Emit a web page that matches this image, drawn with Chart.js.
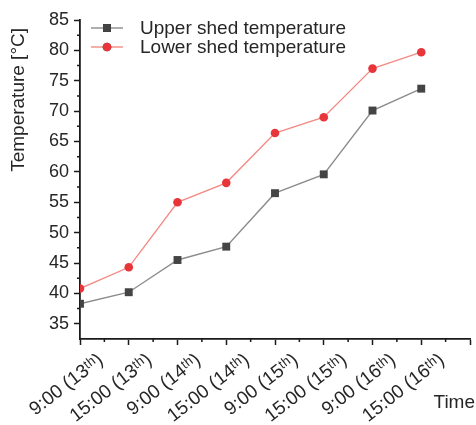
<!DOCTYPE html>
<html>
<head>
<meta charset="utf-8">
<script src="https://cdn.jsdelivr.net/npm/chart.js@4.4.1/dist/chart.umd.min.js"></script>
<style>
  html, body { margin: 0; padding: 0; background: #fff; }
</style>
</head>
<body>
<canvas id="tempChart" width="476" height="425"></canvas>
<script>
// data
var timeLabels = ["9:00 (13ᵗʰ)", "15:00 (13ᵗʰ)", "9:00 (14ᵗʰ)", "15:00 (14ᵗʰ)",
                  "9:00 (15ᵗʰ)", "15:00 (15ᵗʰ)", "9:00 (16ᵗʰ)", "15:00 (16ᵗʰ)"];
var upperTemp = [38.3, 40.2, 45.5, 47.7, 56.5, 59.6, 70.1, 73.7];
var lowerTemp = [40.8, 44.3, 55.0, 58.2, 66.4, 69.0, 77.0, 79.7];
var yTicks = [35, 40, 45, 50, 55, 60, 65, 70, 75, 80, 85];
var seriesNames = ["Upper shed temperature", "Lower shed temperature"];

var FONT = "'Liberation Sans', Arial, sans-serif";
var TEXT_COLOR = "#262626";
var AXIS_COLOR = "#1a1a1a";

function toPoints(values) {
    var pts = [];
    for (var i = 0; i < values.length; i++) {
        pts.push({ x: i, y: values[i] });
    }
    return pts;
}

// short ticks half way between the labelled ones
var minorTicks = {
    id: "minorTicks",
    afterDraw: function (chart) {
        var ctx = chart.ctx;
        var xs = chart.scales.x, ys = chart.scales.y;
        ctx.save();
        ctx.strokeStyle = AXIS_COLOR;
        ctx.lineWidth = 1.5;
        ctx.beginPath();
        for (var i = 0; i < yTicks.length - 1; i++) {
            var py = ys.getPixelForValue((yTicks[i] + yTicks[i + 1]) / 2);
            ctx.moveTo(ys.right, py);
            ctx.lineTo(ys.right - 3, py);
        }
        for (var j = 0; j < timeLabels.length; j++) {
            var px = xs.getPixelForValue(j + 0.5);
            ctx.moveTo(px, xs.top);
            ctx.lineTo(px, xs.top + 3);
        }
        ctx.stroke();
        ctx.restore();
    }
};

// legend drawn inside the plot, line + marker + name
var innerLegend = {
    id: "innerLegend",
    afterDraw: function (chart) {
        var ctx = chart.ctx;
        var x0 = 91, x1 = 123, tx = 140;
        var rows = [28, 47];
        ctx.save();
        ctx.font = "19px " + FONT;
        ctx.textBaseline = "middle";
        chart.data.datasets.forEach(function (ds, k) {
            var y = rows[k];
            ctx.strokeStyle = ds.borderColor;
            ctx.lineWidth = ds.borderWidth;
            ctx.beginPath();
            ctx.moveTo(x0, y);
            ctx.lineTo(x1, y);
            ctx.stroke();
            Chart.helpers.drawPoint(ctx, {
                pointStyle: ds.pointStyle,
                radius: ds.pointRadius,
                rotation: 0,
                borderWidth: 0
            }, (x0 + x1) / 2, y);
            ctx.fillStyle = ds.pointBackgroundColor;
            ctx.fill();
            ctx.fillStyle = TEXT_COLOR;
            ctx.fillText(seriesNames[k], tx, y + 1);
        });
        ctx.restore();
    }
};

// axis titles: "Temperature" hangs from near the top, "Time" sits level with the tick labels
var axisTitles = {
    id: "axisTitles",
    afterDraw: function (chart) {
        var ctx = chart.ctx;
        ctx.save();
        ctx.font = "19px " + FONT;
        ctx.fillStyle = TEXT_COLOR;
        ctx.textBaseline = "middle";
        ctx.textAlign = "right";
        ctx.fillText("Time", 475, 403);
        ctx.translate(19, 28);
        ctx.rotate(-Math.PI / 2);
        ctx.fillText("Temperature [°C]", 0, 0);
        ctx.restore();
    }
};

new Chart(document.getElementById("tempChart"), {
    type: "line",
    data: {
        datasets: [{
            label: seriesNames[0],
            data: toPoints(upperTemp),
            borderColor: "#8c8c8c",
            borderWidth: 1.4,
            pointStyle: "rect",
            pointRadius: 5.6,
            pointBackgroundColor: "#444444",
            pointBorderWidth: 0,
            tension: 0
        }, {
            label: seriesNames[1],
            data: toPoints(lowerTemp),
            borderColor: "#f28b85",
            borderWidth: 1.4,
            pointStyle: "circle",
            pointRadius: 4.3,
            pointBackgroundColor: "#e8353a",
            pointBorderWidth: 0,
            tension: 0
        }]
    },
    options: {
        responsive: false,
        animation: false,
        layout: { padding: { top: 20, right: 6, left: 0, bottom: 0 } },
        plugins: {
            legend: { display: false },
            tooltip: { enabled: false }
        },
        scales: {
            x: {
                type: "linear",
                min: 0,
                max: 8,
                afterBuildTicks: function (scale) {
                    var t = [];
                    for (var i = 0; i <= timeLabels.length; i++) t.push({ value: i });
                    scale.ticks = t;
                },
                afterFit: function (scale) {
                    scale.height = 86;
                    scale.paddingLeft = 0;
                    scale.paddingRight = 0;
                },
                grid: { drawOnChartArea: false, tickLength: 6, tickColor: AXIS_COLOR, tickWidth: 1.5 },
                border: { color: AXIS_COLOR, width: 1.8 },
                ticks: {
                    autoSkip: false,
                    minRotation: 38,
                    maxRotation: 38,
                    padding: 4,
                    labelOffset: 21,
                    color: TEXT_COLOR,
                    font: { size: 19, family: FONT },
                    callback: function (value) { return timeLabels[value] || ""; }
                }
            },
            y: {
                min: 32.5,
                max: 85,
                afterBuildTicks: function (scale) {
                    scale.ticks = yTicks.map(function (v) { return { value: v }; });
                },
                afterFit: function (scale) { scale.width = 80; },
                grid: { drawOnChartArea: false, tickLength: 6, tickColor: AXIS_COLOR, tickWidth: 1.5 },
                border: { color: AXIS_COLOR, width: 1.8 },
                ticks: {
                    padding: 5,
                    color: TEXT_COLOR,
                    font: { size: 18, family: FONT }
                }
            }
        }
    },
    plugins: [minorTicks, innerLegend, axisTitles]
});
</script>
</body>
</html>
